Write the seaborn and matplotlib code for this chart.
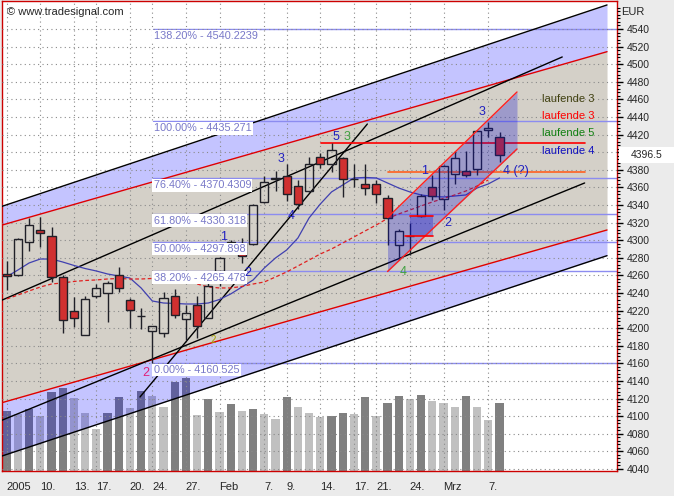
import numpy as np
import pandas as pd
import matplotlib
matplotlib.use('agg')
import matplotlib.pyplot as plt
import matplotlib.transforms as mtransforms
from matplotlib.patches import Rectangle
import seaborn as sns

# daily DAX-like candles, 5 Jan - 8 Mar 2005 (index = trading day)
OPEN = [4262, 4260, 4298, 4312, 4305, 4258, 4220, 4192, 4236, 4240, 4260, 4232, 4214, 4197, 4194,
        4236, 4210, 4226, 4212, 4265, 4297, 4297, 4296, 4343, 4369, 4373, 4362, 4356, 4395, 4387,
        4393, 4370, 4364, 4364, 4348, 4295, 4305, 4328, 4360, 4347, 4375, 4379, 4381, 4425, 4417]
HIGH = [4276, 4302, 4325, 4326, 4315, 4260, 4235, 4236, 4250, 4254, 4270, 4234, 4223, 4203, 4241,
        4245, 4226, 4237, 4257, 4281, 4300, 4302, 4341, 4373, 4379, 4387, 4368, 4394, 4399, 4410,
        4395, 4387, 4387, 4368, 4351, 4313, 4320, 4353, 4374, 4386, 4401, 4401, 4425, 4434, 4423]
LOW = [4243, 4259, 4288, 4292, 4253, 4194, 4201, 4192, 4234, 4207, 4241, 4200, 4199, 4160.5, 4190,
       4212, 4187, 4189, 4211, 4248, 4295, 4274, 4294, 4342, 4356, 4344, 4336, 4355, 4382, 4378,
       4349, 4360, 4351, 4342, 4295, 4277, 4283, 4326, 4346, 4334, 4364, 4372, 4374, 4417, 4389]
CLOSE = [4259, 4301, 4317, 4308, 4258, 4209, 4212, 4233, 4246, 4251, 4246, 4221, 4214, 4202, 4234,
         4215, 4217, 4202, 4248, 4280, 4298, 4282, 4340, 4366, 4371, 4353, 4341, 4387, 4387, 4402,
         4370, 4370, 4359, 4353, 4325, 4311, 4305, 4350, 4350, 4384, 4393, 4374, 4424, 4428, 4396.5]
VOLUME = [60, 56.7, 62, 55.3, 78.7, 82.7, 73.3, 57.7, 42, 57.7, 74.3, 63.3, 80, 75, 64.3,
          89.3, 93.3, 56, 72, 58.7, 67, 60, 62, 57.3, 52, 73.7, 64.3, 58.3, 54.3, 55,
          58.3, 57, 74, 55.3, 68, 75, 72, 76, 70, 68.3, 64.3, 75, 64.3, 51, 68.3]

MA_FAST = [4258.5, 4266.1, 4274.1, 4278.6, 4278.6, 4275.2, 4271.3, 4267.8, 4265.0, 4261.6, 4259.3,
           4257.0, 4245.7, 4230.9, 4228.6, 4228.1, 4227.5, 4227.5, 4228.6, 4232.6, 4238.9, 4246.8,
           4254.8, 4268.4, 4279.8, 4288.9, 4302.5, 4325.3, 4341.1, 4354.8, 4362.7, 4370.7, 4371.3,
           4370.7, 4365.0, 4359.3, 4354.8, 4351.4, 4349.7, 4349.1, 4350.2, 4351.4, 4359.3, 4363.9,
           4370.7]
MA_SLOW = [4233.2, 4237.7, 4242.3, 4246.8, 4250.2, 4251.4, 4253.1, 4254.2, 4254.8, 4255.9, 4256.5,
           4255.9, 4255.9, 4256.5, 4255.9, 4255.3, 4253.6, 4250.2, 4246.8, 4245.7, 4245.7, 4247.4,
           4250.2, 4252.5, 4258.2, 4263.9, 4270.7, 4277.5, 4284.3, 4290.0, 4296.8, 4303.6, 4310.5,
           4317.3, 4324.7, 4329.8, 4334.3, 4338.9, 4343.4, 4347.4, 4351.4, 4355.9, 4361.6, 4368.4]

TICK_POS = [0, 3, 6, 8, 11, 13, 16, 19, 23, 25, 28, 31, 33, 36, 39, 43]
TICK_LABELS = ['2005', '10.', '13.', '17.', '20.', '24.', '27.', 'Feb', '7.', '9.', '14.',
               '17.', '21.', '24.', 'Mrz', '7.']

FIB_PCT = ['138.20%', '100.00%', '76.40%', '61.80%', '50.00%', '38.20%', '0.00%']
FIB_LEVEL = ['4540.2239', '4435.271', '4370.4309', '4330.318', '4297.898', '4265.478', '4160.525']
FIB_START = 13.06

# trend lines: (x0, x1), (y0, y1)
CH_X = [-0.6, 53.6]
CH_UPPER_BLACK = [4337.7, 4567.3]
CH_UPPER_RED = [4316.5, 4514.2]
CH_LOWER_RED = [4114.7, 4311.6]
CH_LOWER_BLACK = [4054.0, 4282.4]
LINE_A = ([-0.6, 49.6], [4230.9, 4508.2])
LINE_B = ([-0.6, 51.6], [4094.5, 4365.0])
LINE_C = ([11.9, 32.2], [4121.8, 4432.0])
INNER_X = [34.0, 45.56]
INNER_UPPER = [4325.7, 4468.4]
INNER_LOWER = [4264.4, 4403.6]
RED_HLINE = ([28.1, 51.6], 4410.0)
ORANGE_HLINE = ([34.07, 51.6], 4377.2)
BOX_X = [36.0, 38.1]
BOX_Y = [4304.8, 4327.5]

WAVES = [  # text, x, y, colour, size
    ('1', 19.4, 4303.6, '#2020c0', 9), ('2', 21.5, 4263.1, '#2020c0', 9),
    ('3', 24.5, 4392.3, '#2020c0', 9), ('4', 25.4, 4327.5, '#2020c0', 9),
    ('5', 29.4, 4417.6, '#2020c0', 9), ('3', 30.4, 4417.6, '#40a040', 9),
    ('3', 42.4, 4446.0, '#2020c0', 9), ('1', 37.3, 4379.0, '#2020c0', 9),
    ('2', 39.4, 4319.2, '#2020c0', 9), ('4', 35.4, 4264.2, '#40a040', 9),
    ('2', 18.45, 4186.6, '#a0a000', 7), ('2', 12.4, 4148.7, '#e0207a', 9),
]
LEGEND_TEXT = ['laufende 3', 'laufende 3', 'laufende 5', 'laufende 4']
LEGEND_COL = ['#404010', '#ff0000', '#108010', '#1010c0']
LEGEND_Y = [4460.1, 4441.1, 4421.5, 4401.4]


def main():
    sns.set_style('white')
    plt.rcParams['font.family'] = ['Liberation Sans', 'DejaVu Sans']

    df = pd.DataFrame({'o': OPEN, 'h': HIGH, 'l': LOW, 'c': CLOSE, 'v': VOLUME})
    df['x'] = np.arange(len(df))

    fig = plt.figure(figsize=(6.74, 4.96), dpi=100, facecolor='#ebebeb')
    ax = fig.add_axes([2 / 674, 25 / 496, 615 / 674, 470 / 496])
    ax.set_facecolor('white')
    ax.set_xlim(-0.42, 54.49)
    ax.set_ylim(4037.7, 4571.8)

    # regression channel
    ax.fill_between(CH_X, CH_LOWER_RED, CH_UPPER_RED, color='#d4d0c8', lw=0, zorder=0.2)
    ax.fill_between(CH_X, CH_UPPER_RED, CH_UPPER_BLACK, color='#0000ff', alpha=0.23, lw=0, zorder=2)
    ax.fill_between(CH_X, CH_LOWER_BLACK, CH_LOWER_RED, color='#0000ff', alpha=0.23, lw=0, zorder=2)
    for ys, col in [(CH_UPPER_BLACK, 'black'), (CH_UPPER_RED, '#e00000'),
                    (CH_LOWER_RED, '#e00000'), (CH_LOWER_BLACK, 'black')]:
        ax.plot(CH_X, ys, color=col, lw=1, zorder=3)

    # volume, dark when higher than the day before
    up_vol = df['v'].diff().fillna(1) > 0
    vcol = np.where(up_vol, '#808080', '#c0c0c0')
    ax.bar(df['x'], df['v'] / 470, width=0.72, bottom=0, color=vcol, lw=0,
           transform=ax.get_xaxis_transform(), zorder=1)

    # fibonacci levels
    for pct, lev in zip(FIB_PCT, FIB_LEVEL):
        y = float(lev)
        ax.plot([FIB_START, 54.49], [y, y], color='#8c8cf0', lw=1, zorder=2.5)
        ax.annotate(f'{pct} - {lev}', (FIB_START, y), xytext=(0.5, -1.5), textcoords='offset points',
                    va='top', ha='left', fontsize=7.8, color='#7878c8', zorder=6,
                    bbox=dict(boxstyle='square,pad=0.12', fc='white', ec='none'))

    # trend lines
    for xs, ys in [LINE_A, LINE_B, LINE_C]:
        ax.plot(xs, ys, color='black', lw=1, zorder=3)
    ax.plot(RED_HLINE[0], [RED_HLINE[1]] * 2, color='#ff0000', lw=1.2, zorder=3)
    ax.plot(ORANGE_HLINE[0], [ORANGE_HLINE[1]] * 2, color='#ff6020', lw=1.2, zorder=3)

    # moving averages
    sns.lineplot(x=np.arange(len(MA_FAST)), y=MA_FAST, ax=ax, color='#4040b0', lw=0.9, zorder=3.5)
    sns.lineplot(x=np.arange(len(MA_SLOW)), y=MA_SLOW, ax=ax, color='#e02020', lw=0.9,
                 linestyle=(0, (3, 2)), zorder=3.5)

    # candles
    edge = '#202028'
    top = df[['o', 'c']].max(axis=1)
    bot = df[['o', 'c']].min(axis=1)
    ax.vlines(df['x'], top, df['h'], color=edge, lw=1, zorder=4)
    ax.vlines(df['x'], df['l'], bot, color=edge, lw=1, zorder=4)
    body_col = np.where(df['c'] < df['o'], '#d03030', 'none')
    ax.bar(df['x'], top - bot, bottom=bot, width=0.72, color=body_col, edgecolor=edge, lw=1, zorder=4)

    # short term channel and box
    ax.fill_between(INNER_X, INNER_LOWER, INNER_UPPER, color='#1010d0', alpha=0.28, lw=0, zorder=5)
    ax.plot(INNER_X, INNER_UPPER, color='#ff2020', lw=1, zorder=5.2)
    ax.plot(INNER_X, INNER_LOWER, color='#ff2020', lw=1, zorder=5.2)
    ax.fill_between(BOX_X, BOX_Y[0], BOX_Y[1], color='#1010d0', alpha=0.3, lw=0, zorder=5)
    ax.plot(BOX_X, [BOX_Y[1]] * 2, color='#ff0000', lw=1.2, zorder=5.2)
    ax.plot([BOX_X[0] - 0.4, BOX_X[1]], [BOX_Y[0]] * 2, color='#ff0000', lw=1.2, zorder=5.2)

    # labels
    for t, x, y, col, fs in WAVES:
        ax.text(x, y, t, color=col, fontsize=fs, ha='center', va='center', zorder=6)
    ax.text(44.3, 4379.0, '4 (?)', color='#2020c0', fontsize=9, ha='left', va='center', zorder=6)
    for t, col, y in zip(LEGEND_TEXT, LEGEND_COL, LEGEND_Y):
        ax.text(47.8, y, t, color=col, fontsize=8, ha='left', va='center', zorder=6)
    ax.text(5 / 615, 1 - 11 / 470, '\u00a9 www.tradesignal.com', transform=ax.transAxes,
            fontsize=8, ha='left', va='center', zorder=6)

    # axes
    ax.yaxis.tick_right()
    yt = np.arange(4040, 4541, 20)
    ax.set_yticks(yt)
    # the 4400 label sits under the last-price box
    ax.set_yticklabels(['' if v == 4400 else str(v) for v in yt])
    ax.set_yticks(np.arange(4040, 4565, 4), minor=True)
    ax.set_xticks(TICK_POS)
    ax.set_xticklabels(TICK_LABELS, ha='left')
    ax.set_xticks(np.arange(0, 45), minor=True)
    ax.tick_params(axis='y', which='major', length=4, width=1, labelsize=7.5, pad=3, color='black')
    ax.tick_params(axis='y', which='minor', length=2, width=0.8, color='black')
    ax.tick_params(axis='x', which='major', length=4, width=1, labelsize=8, pad=4, color='black')
    ax.tick_params(axis='x', which='minor', length=2, width=0.8, color='black')
    ax.grid(True, which='major', color='#8a8a8a', lw=0.8, linestyle=(0, (1, 3)))
    ax.set_axisbelow(False)
    for s in ax.spines.values():
        s.set_color('#cc0000')
        s.set_linewidth(1)
    ax.set_xlabel('')
    ax.set_ylabel('')

    fig.text(621 / 674, 1 - 12 / 496, 'EUR', fontsize=8, ha='left', va='center')
    blend = mtransforms.blended_transform_factory(ax.transAxes, ax.transData)
    ax.add_patch(Rectangle((1.0 + 2 / 615, CLOSE[-1] - 9), 55 / 615, 18, transform=blend,
                           facecolor='white', edgecolor='none', clip_on=False, zorder=6))
    ax.text(1.0 + 14 / 615, CLOSE[-1], f'{CLOSE[-1]:.1f}', transform=blend, fontsize=7.5,
            ha='left', va='center', clip_on=False, zorder=7)

    fig.savefig('out.png', dpi=100, facecolor=fig.get_facecolor())
    plt.close('all')


if __name__ == '__main__':
    main()
